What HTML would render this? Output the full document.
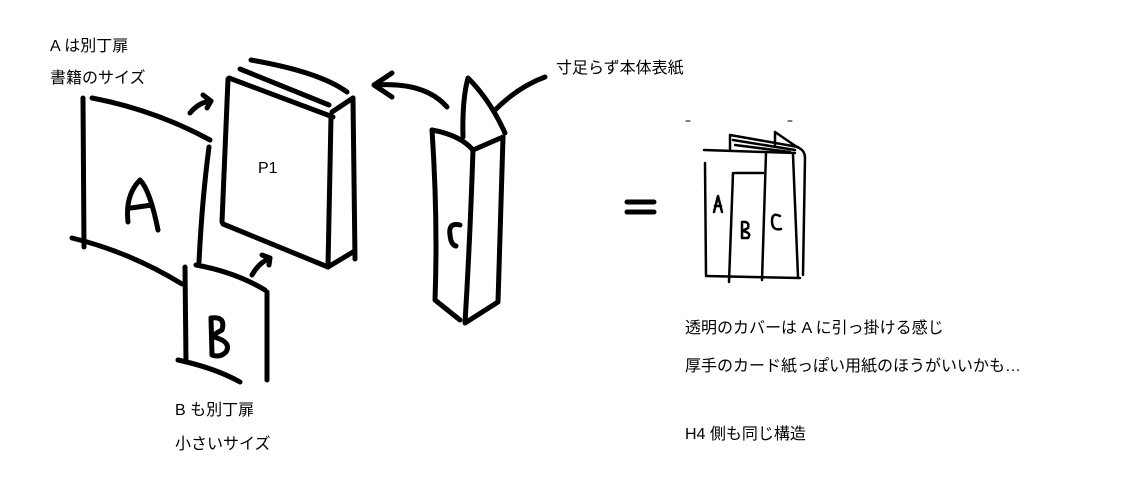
<!DOCTYPE html>
<html><head><meta charset="utf-8"><style>
html,body{margin:0;padding:0;background:#fff;}
body{width:1130px;height:495px;overflow:hidden;position:relative;}
.t{position:absolute;font-family:"Liberation Sans","Noto Sans CJK JP",sans-serif;font-size:16px;color:#000;white-space:nowrap;line-height:1;}
svg{position:absolute;left:0;top:0;}
</style></head><body>
<svg width="1130" height="495" viewBox="0 0 1130 495" fill="none" stroke="#000" stroke-linecap="round" stroke-linejoin="round">
<g stroke-width="5">
<path d="M83 98 L84 247"/>
<path d="M92 98 Q155 110 210 140"/>
<path d="M209 147 Q202 200 199 262"/>
<path d="M72 238 Q130 252 182 284"/>
<path d="M128 222 Q125 195 140 180 Q150 190 158 230 M131 208 L152 205"/>
<path d="M190 113 Q198 103 210 101 M203 95 L211 101 L207 108"/>
<path d="M252 275 Q258 264 268 259 M262 255 L270 258 L269 265"/>
<path d="M228 79 L222 222"/>
<path d="M229 78 L333 117"/>
<path d="M240 69 L329 105"/>
<path d="M251 60 Q320 72 347 92"/>
<path d="M223 224 L328 267"/>
<path d="M331 117 L328 267"/>
<path d="M353 98 L355 259"/>
<path d="M332 112 L353 98"/>
<path d="M328 267 L353 252"/>
<path d="M185 267 L186 362"/>
<path d="M196 265 Q235 272 265 290"/>
<path d="M267 292 L267 380"/>
<path d="M178 360 Q215 368 240 382"/>
<path d="M212 355 L211 318 Q226 316 222 330 Q212 335 214 337 Q232 342 226 352 Q220 358 212 355"/>
<path d="M447 107 Q425 82 377 85 M392 73 L374 85 L392 97"/>
<path d="M432 130 Q460 135 473 150 L503 137"/>
<path d="M432 130 Q438 220 435 300 L460 320"/>
<path d="M473 150 Q470 240 465 323 L498 302 L503 137"/>
<path d="M463 137 Q462 100 468 78 Q490 100 505 133"/>
<path d="M495 110 Q518 87 545 77"/>
<path d="M460 225 Q448 222 450 235 Q451 245 456 246"/>
<path d="M627 202 L654 202 M627 212 L654 212"/>
</g>
<g stroke-width="2.5">
<path d="M705 163 L706 275"/>
<path d="M704 150 L795 153"/>
<path d="M706 276 L800 278"/>
<path d="M797 147 Q805 150 805 158 L803 275"/>
<path d="M793 155 L798 277"/>
<path d="M733 173 L729 282"/>
<path d="M735 173 L763 173"/>
<path d="M766 153 L762 280"/>
<path d="M730 135 L798 147 M730 135 L730 150 M733 140 L795 150 M735 145 L790 152"/>
<path d="M775 132 L775 145 M775 132 L797 147"/>
<path d="M714 212 L718 196 L722 212 M715 206 L721 206"/>
<path d="M742 238 L742 222 Q750 221 748 228 Q742 231 743 231 Q752 233 748 238 Z"/>
<path d="M780 216 Q772 212 772 221 Q772 231 781 229"/>
</g>
<g stroke-width="1"><path d="M686 121 L690 121 M788 121 L792 121"/></g>
</svg>
<div class="t" style="left:50px;top:39px">A は別丁扉</div>
<div class="t" style="left:50px;top:71px">書籍のサイズ</div>
<div class="t" style="left:258px;top:161px">P1</div>
<div class="t" style="left:556px;top:61px">寸足らず本体表紙</div>
<div class="t" style="left:175px;top:403px">B も別丁扉</div>
<div class="t" style="left:175px;top:437px">小さいサイズ</div>
<div class="t" style="left:685px;top:321px">透明のカバーは A に引っ掛ける感じ</div>
<div class="t" style="left:685px;top:359px">厚手のカード紙っぽい用紙のほうがいいかも…</div>
<div class="t" style="left:685px;top:427px">H4 側も同じ構造</div>
</body></html>
